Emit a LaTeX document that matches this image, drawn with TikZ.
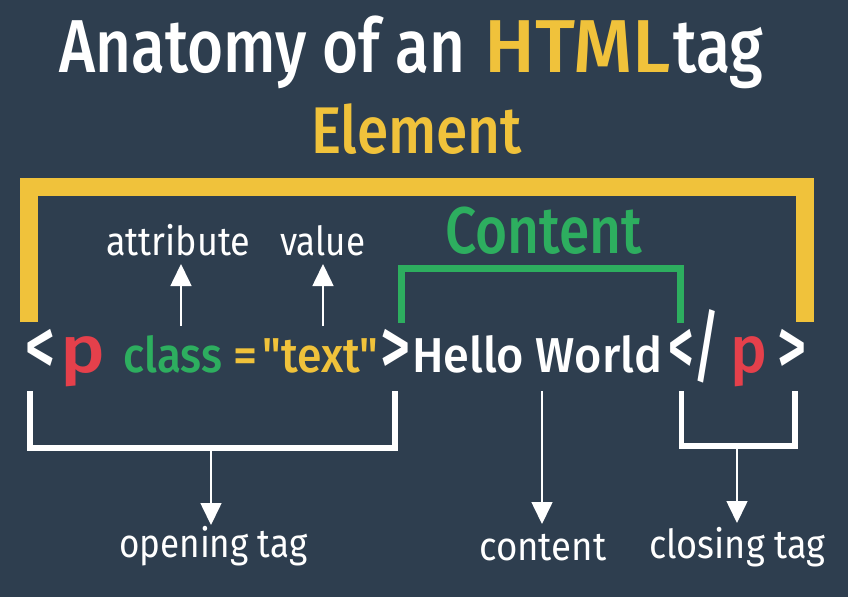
\documentclass[tikz,border=0pt]{standalone}
\usepackage{fontspec}
\setmainfont{Fira Sans}
\newfontfamily\medfont{Fira Sans Medium}
\usepackage{graphicx}
\usetikzlibrary{arrows.meta}

\definecolor{slate}{HTML}{2E3E4F}
\definecolor{tagyellow}{HTML}{F0C23B}
\definecolor{taggreen}{HTML}{2DAE5F}
\definecolor{tagred}{HTML}{E5404B}

% squeeze or stretch a text to a given width
\newlength\fitlen
\newcommand\fitw[2]{\settowidth\fitlen{#2}\pgfmathsetmacro\fitk{#1/\fitlen}\scalebox{\fitk}[1]{#2}}

\tikzset{
  word/.style={anchor=base west, inner sep=0pt, text=white},
  big/.style={font=\medfont\fontsize{75}{80}\selectfont},
  head/.style={font=\medfont\fontsize{66}{70}\selectfont},
  code/.style={font=\medfont\fontsize{49}{54}\selectfont},
  chevron/.style={font=\medfont\fontsize{80}{84}\selectfont},
  label/.style={font=\fontsize{40}{44}\selectfont},
  pointer/.style={draw=white, line width=1.6pt, -{Triangle[length=22pt,width=21pt]}},
  whitebracket/.style={draw=white, line width=5.5pt}
}

\begin{document}
\begin{tikzpicture}[x=1pt, y=-1pt]
        \fill[slate] (0,0) rectangle (848,597);
        % title
        \node[word, big] (title) at (59,72) {\fitw{406pt}{Anatomy of an}};
        \node[word, big, text=tagyellow] (html) at (484,72) {\fitw{187pt}{HTML}};
        \node[word, big] (tagword) at (673,72) {\fitw{90pt}{tag}};
        \node[word, head, text=tagyellow] (element) at (311,153) {\fitw{211pt}{Element}};
        % brackets above
        \draw[tagyellow, line width=18pt] (28.5,322) -- (28.5,186.5) -- (805,186.5) -- (805,322);
        \draw[taggreen, line width=7pt] (401,323) -- (401,268) -- (680.5,268) -- (680.5,323);
        \node[word, head, text=taggreen] (contenthead) at (445,253) {\fitw{197pt}{Content}};
        \node[word, label] (attribute) at (106,255) {\fitw{144pt}{attribute}};
        \node[word, label] (value) at (280,255) {\fitw{85pt}{value}};
        % the tag itself
        \node[word, chevron] (lt1) at (25,374) {\fitw{30pt}{<}};
        \node[word, text=tagred, font=\medfont\fontsize{66}{70}\selectfont] (p1) at (60,372) {\fitw{45pt}{p}};
        \node[word, code, text=taggreen] (class) at (123,372) {\fitw{99pt}{class}};
        \node[word, code, text=tagyellow] (eq) at (233,372) {\fitw{24pt}{=}};
        \node[word, code, text=tagyellow] (text) at (262,372) {\fitw{116pt}{\symbol{34}text\symbol{34}}};
        \node[word, chevron] (gt1) at (380,374) {\fitw{30pt}{>}};
        \node[word, code] (hello) at (412,372) {\fitw{250pt}{Hello World}};
        \node[word, chevron] (lt2) at (668,374) {\fitw{52pt}{</}};
        \node[word, text=tagred, font=\medfont\fontsize{66}{70}\selectfont] (p2) at (730,372) {\fitw{37pt}{p}};
        \node[word, chevron] (gt2) at (777,374) {\fitw{29pt}{>}};
        % pointers up
        \coordinate (attrfoot) at (181,326);
        \coordinate (attrtip) at (181,264);
        \coordinate (valuefoot) at (323,326);
        \coordinate (valuetip) at (323,264);
        \draw[pointer] (attrfoot) -- (attrtip);
        \draw[pointer] (valuefoot) -- (valuetip);
        % brackets below
        \draw[whitebracket] (30,391) -- (30,448) -- (395,448) -- (395,391);
        \draw[whitebracket] (681.5,391) -- (681.5,446) -- (795,446) -- (795,391);
        \coordinate (openfoot) at (211,451);
        \coordinate (opentip) at (211,525);
        \coordinate (contentfoot) at (542,391);
        \coordinate (contenttip) at (542,524);
        \coordinate (closefoot) at (737,449);
        \coordinate (closetip) at (737,523);
        \draw[pointer] (openfoot) -- (opentip);
        \draw[pointer] (contentfoot) -- (contenttip);
        \draw[pointer] (closefoot) -- (closetip);
        \node[word, label] (opening) at (119,557) {\fitw{188pt}{opening tag}};
        \node[word, label] (content) at (479,560) {\fitw{127pt}{content}};
        \node[word, label] (closing) at (649,558) {\fitw{176pt}{closing tag}};
      \end{tikzpicture}
\end{document}
